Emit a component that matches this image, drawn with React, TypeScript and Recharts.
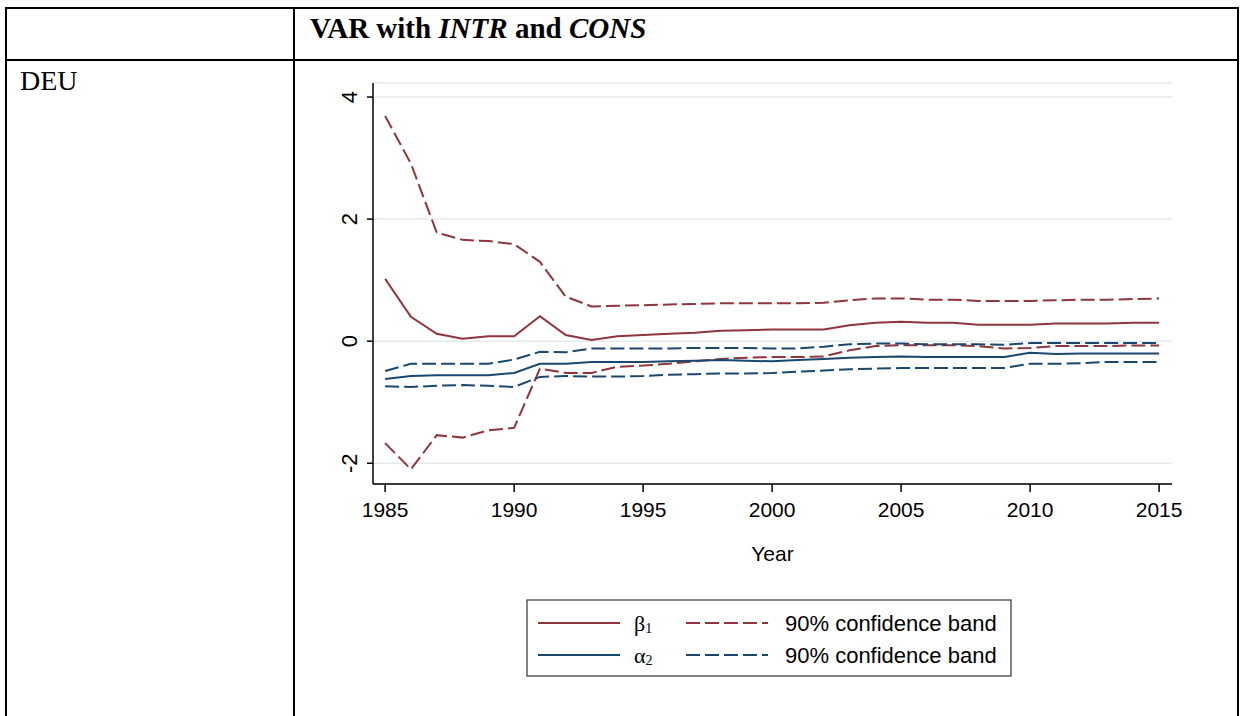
import React from "react";
import { LineChart, Line, XAxis, YAxis, CartesianGrid, Label } from "recharts";

const years = [
  1985, 1986, 1987, 1988, 1989, 1990, 1991, 1992, 1993, 1994, 1995, 1996, 1997, 1998, 1999, 2000,
  2001, 2002, 2003, 2004, 2005, 2006, 2007, 2008, 2009, 2010, 2011, 2012, 2013, 2014, 2015,
];
const beta = [
  1.02, 0.4, 0.12, 0.04, 0.08, 0.08, 0.41, 0.1, 0.02, 0.08, 0.1, 0.12, 0.14, 0.17, 0.18, 0.19,
  0.19, 0.19, 0.26, 0.3, 0.32, 0.3, 0.3, 0.27, 0.27, 0.27, 0.29, 0.29, 0.29, 0.3, 0.3,
];
const betaHi = [
  3.69, 2.91, 1.78, 1.66, 1.64, 1.59, 1.3, 0.73, 0.57, 0.58, 0.59, 0.6, 0.61, 0.62, 0.62, 0.62,
  0.62, 0.63, 0.67, 0.7, 0.7, 0.68, 0.68, 0.66, 0.66, 0.66, 0.67, 0.68, 0.68, 0.69, 0.7,
];
const betaLo = [
  -1.67, -2.1, -1.54, -1.58, -1.46, -1.42, -0.45, -0.52, -0.52, -0.42, -0.4, -0.37, -0.33, -0.29,
  -0.27, -0.26, -0.26, -0.25, -0.15, -0.08, -0.065, -0.065, -0.065, -0.08, -0.12, -0.11, -0.08,
  -0.08, -0.08, -0.07, -0.07,
];
const alpha = [
  -0.62, -0.57, -0.56, -0.56, -0.56, -0.52, -0.37, -0.37, -0.34, -0.34, -0.34, -0.33, -0.32, -0.31,
  -0.32, -0.33, -0.31, -0.29, -0.27, -0.26, -0.25, -0.26, -0.26, -0.26, -0.26, -0.19, -0.21, -0.2,
  -0.2, -0.2, -0.2,
];
const alphaHi = [
  -0.49, -0.37, -0.37, -0.37, -0.37, -0.3, -0.175, -0.18, -0.12, -0.12, -0.12, -0.12, -0.11, -0.11,
  -0.11, -0.12, -0.12, -0.09, -0.05, -0.04, -0.04, -0.05, -0.05, -0.05, -0.06, -0.03, -0.03, -0.03,
  -0.03, -0.03, -0.03,
];
const alphaLo = [
  -0.74, -0.75, -0.73, -0.72, -0.73, -0.75, -0.585, -0.57, -0.58, -0.58, -0.57, -0.55, -0.54, -0.53,
  -0.53, -0.52, -0.5, -0.48, -0.46, -0.45, -0.44, -0.44, -0.44, -0.44, -0.44, -0.37, -0.37, -0.36,
  -0.34, -0.34, -0.34,
];

const xTicks = [1985, 1990, 1995, 2000, 2005, 2010, 2015];
const yTicks = [-2, 0, 2, 4];

const MAROON = "#90353b";
const NAVY = "#1a476f";
const DASH = "14 5";
const SANS = "'Liberation Sans', Arial, sans-serif";
const SERIF = "'Liberation Serif', 'Times New Roman', serif";

const data = years.map((year, i) => ({
  year,
  beta: beta[i],
  betaHi: betaHi[i],
  betaLo: betaLo[i],
  alpha: alpha[i],
  alphaHi: alphaHi[i],
  alphaLo: alphaLo[i],
}));

const legendRows = [
  { greek: "β", sub: "1", color: MAROON },
  { greek: "α", sub: "2", color: NAVY },
];

// rotated y tick labels, like Stata does
const YTick = (props: any) => {
  const { x, y, payload } = props;
  return (
    <text
      x={x}
      y={y}
      transform={`rotate(-90 ${x} ${y})`}
      textAnchor="middle"
      fontSize={22}
      fontFamily={SANS}
      fill="#000"
    >
      {payload.value}
    </text>
  );
};

const line = "#000";

export default function App() {
  return (
    <div
      style={{
        position: "absolute",
        left: 0,
        top: 0,
        width: 1240,
        height: 716,
        background: "#fff",
        overflow: "hidden",
      }}
    >
      {/* table frame */}
      <div style={{ position: "absolute", left: 5, top: 7, width: 1234, height: 2, background: line }} />
      <div style={{ position: "absolute", left: 5, top: 7, width: 2, height: 709, background: line }} />
      <div style={{ position: "absolute", left: 293, top: 7, width: 2, height: 709, background: line }} />
      <div style={{ position: "absolute", left: 1237, top: 7, width: 2, height: 709, background: line }} />
      <div style={{ position: "absolute", left: 5, top: 59, width: 1234, height: 2, background: line }} />

      <div
        style={{
          position: "absolute",
          left: 310,
          top: 11,
          fontFamily: SERIF,
          fontWeight: "bold",
          fontSize: 29,
          lineHeight: "34px",
          whiteSpace: "nowrap",
        }}
      >
        VAR with <i>INTR</i> and <i>CONS</i>
      </div>
      <div
        style={{
          position: "absolute",
          left: 20,
          top: 64,
          fontFamily: SERIF,
          fontSize: 28,
          lineHeight: "34px",
        }}
      >
        DEU
      </div>

      <div style={{ position: "absolute", left: 300, top: 70 }}>
        <LineChart width={902} height={494} data={data} margin={{ top: 13, right: 30, bottom: 0, left: 0 }}>
          <CartesianGrid vertical={false} stroke="#e3ebec" strokeWidth={1.5} />
          <XAxis
            dataKey="year"
            type="number"
            domain={[1984.53, 2015.5]}
            ticks={xTicks}
            interval={0}
            allowDataOverflow
            height={80}
            tickSize={8}
            tickMargin={10}
            stroke="#000"
            strokeWidth={1.5}
            tick={{ fill: "#000", fontSize: 21, fontFamily: SANS }}
          >
            <Label value="Year" position="insideBottom" offset={3} fill="#000" fontSize={21} fontFamily={SANS} />
          </XAxis>
          <YAxis
            type="number"
            domain={[-2.34, 4.23]}
            ticks={yTicks}
            interval={0}
            allowDataOverflow
            width={73}
            tickSize={6}
            tickMargin={10}
            stroke="#000"
            strokeWidth={1.5}
            tick={<YTick />}
          />
          <Line dataKey="betaHi" stroke={MAROON} strokeWidth={2} strokeDasharray={DASH} dot={false} isAnimationActive={false} />
          <Line dataKey="betaLo" stroke={MAROON} strokeWidth={2} strokeDasharray={DASH} dot={false} isAnimationActive={false} />
          <Line dataKey="alphaHi" stroke={NAVY} strokeWidth={2} strokeDasharray={DASH} dot={false} isAnimationActive={false} />
          <Line dataKey="alphaLo" stroke={NAVY} strokeWidth={2} strokeDasharray={DASH} dot={false} isAnimationActive={false} />
          <Line dataKey="alpha" stroke={NAVY} strokeWidth={2} dot={false} isAnimationActive={false} />
          <Line dataKey="beta" stroke={MAROON} strokeWidth={2} dot={false} isAnimationActive={false} />
        </LineChart>
      </div>

      {/* legend */}
      <svg
        width={486}
        height={78}
        style={{ position: "absolute", left: 526, top: 599 }}
      >
        <rect x={1} y={1} width={484} height={76} fill="#fff" stroke="#333" strokeWidth={1.2} />
        {legendRows.map((r, i) => {
          const cy = 24 + i * 32;
          return (
            <g key={r.greek}>
              <line x1={12} x2={94} y1={cy} y2={cy} stroke={r.color} strokeWidth={2} />
              <text x={108} y={cy + 8} fontFamily={SERIF} fontSize={22} fill="#000">
                {r.greek}
                <tspan fontSize={14} dy={2}>
                  {r.sub}
                </tspan>
              </text>
              <line x1={160} x2={242} y1={cy} y2={cy} stroke={r.color} strokeWidth={2} strokeDasharray={DASH} />
              <text x={259} y={cy + 8} fontFamily={SANS} fontSize={22} fill="#000">
                90% confidence band
              </text>
            </g>
          );
        })}
      </svg>
    </div>
  );
}
